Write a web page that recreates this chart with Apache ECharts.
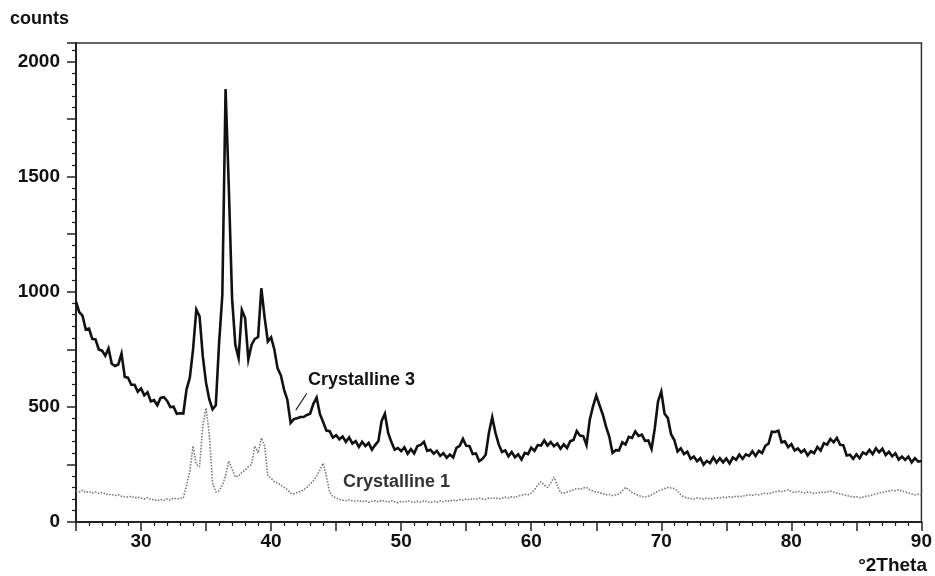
<!DOCTYPE html>
<html>
<head>
<meta charset="utf-8">
<script src="https://cdn.jsdelivr.net/npm/echarts@6/dist/echarts.min.js"></script>
<style>
  html, body { margin: 0; padding: 0; background: #ffffff; }
  #chart { width: 935px; height: 576px; }
</style>
</head>
<body>
<div id="chart"></div>
<script>
// 2Theta grid (degrees), step 0.25 from 25 to 90
const thetaStart = 25, thetaStep = 0.25;

// Crystalline 3 counts (black trace), 4 values per degree from 25.00
const crystalline3 = [
  957, 911, 896, 836,
  840, 795, 793, 749,
  744, 722, 754, 687,
  677, 684, 731, 630,
  627, 596, 596, 566,
  580, 550, 563, 524,
  529, 507, 539, 542,
  527, 499, 501, 470,
  472, 471, 576, 626,
  750, 922, 893, 719,
  604, 532, 489, 507,
  777, 984, 1880, 1450,
  971, 770, 712, 921,
  886, 706, 770, 795,
  803, 1015, 889, 784,
  802, 749, 667, 637,
  574, 531, 430, 447,
  451, 456, 456, 465,
  470, 513, 540, 469,
  434, 397, 394, 367,
  377, 359, 371, 348,
  367, 341, 351, 326,
  348, 330, 343, 314,
  334, 352, 439, 470,
  387, 347, 314, 321,
  308, 324, 296, 316,
  298, 330, 335, 348,
  309, 314, 297, 309,
  287, 299, 279, 293,
  280, 322, 331, 361,
  331, 330, 295, 298,
  264, 274, 292, 389,
  455, 387, 337, 304,
  311, 285, 304, 281,
  294, 271, 300, 295,
  323, 309, 334, 332,
  354, 332, 347, 329,
  341, 318, 337, 321,
  351, 356, 395, 375,
  373, 334, 444, 502,
  549, 507, 467, 414,
  371, 300, 312, 311,
  346, 336, 370, 365,
  393, 374, 379, 352,
  354, 317, 407, 524,
  566, 470, 452, 381,
  356, 306, 320, 295,
  305, 274, 284, 264,
  277, 249, 265, 256,
  281, 258, 277, 259,
  276, 254, 280, 270,
  293, 274, 294, 287,
  307, 287, 309, 299,
  331, 340, 392, 391,
  396, 346, 350, 325,
  338, 311, 319, 302,
  314, 289, 307, 299,
  326, 310, 342, 336,
  361, 346, 365, 335,
  333, 289, 292, 274,
  294, 277, 302, 294,
  313, 295, 320, 303,
  318, 291, 305, 285,
  298, 271, 284, 270,
  284, 259, 277, 262,
  265
];

// Crystalline 1 counts (grey dotted trace), same grid
const crystalline1 = [
  135, 130, 138, 128,
  132, 126, 130, 124,
  128, 122, 118, 120,
  115, 118, 112, 110,
  108, 112, 105, 108,
  104, 100, 106, 98,
  96, 92, 98, 94,
  100, 96, 104, 100,
  102, 105, 160, 220,
  330, 250, 240, 420,
  495, 380, 170, 130,
  135, 160, 200, 265,
  230, 195, 200, 215,
  225, 240, 250, 330,
  300, 365, 330, 200,
  190, 175, 170, 160,
  150, 140, 125, 122,
  128, 132, 140, 150,
  165, 180, 200, 225,
  255, 200, 130, 110,
  105, 98, 95, 92,
  96, 92, 90, 94,
  88, 92, 86, 90,
  92, 88, 94, 90,
  86, 92, 88, 84,
  90, 86, 92, 88,
  85, 90, 86, 92,
  88, 84, 90, 86,
  92, 88, 94, 90,
  96, 92, 98, 94,
  100, 96, 102, 98,
  104, 100, 98, 104,
  102, 106, 100, 104,
  108, 104, 110, 106,
  112, 116, 120, 118,
  125, 140, 160, 175,
  160, 150, 170, 195,
  160, 128, 125, 130,
  135, 140, 145, 142,
  148, 150, 140, 135,
  130, 128, 122, 118,
  120, 115, 118, 122,
  135, 150, 140, 128,
  122, 115, 110, 108,
  112, 118, 125, 135,
  140, 145, 150, 148,
  145, 135, 118, 108,
  104, 102, 100, 104,
  102, 100, 104, 100,
  102, 106, 104, 108,
  106, 110, 108, 112,
  110, 112, 115, 118,
  116, 120, 118, 122,
  125, 122, 128, 130,
  134, 132, 136, 140,
  132, 128, 134, 130,
  126, 130, 128, 124,
  126, 130, 128, 132,
  134, 130, 126, 122,
  118, 114, 112, 108,
  110, 106, 108, 112,
  114, 118, 122, 126,
  128, 132, 134, 138,
  136, 140, 134, 130,
  126, 122, 118, 120,
  116
];

const xTickLabels = [30, 40, 50, 60, 70, 80, 90];
const yTickLabels = [0, 500, 1000, 1500, 2000];
const seriesNames = ['Crystalline 3', 'Crystalline 1'];
// pointer line from trace to the "Crystalline 3" label (2Theta, counts)
const pointerC3 = [[41.9, 486], [42.75, 559]];

const twoTheta = crystalline3.map((_, i) => thetaStart + i * thetaStep);
const pairs = arr => arr.map((v, i) => [twoTheta[i], v]);

const FONT = '"Liberation Sans", Arial, sans-serif';
const chart = echarts.init(document.getElementById('chart'));

chart.setOption({
  backgroundColor: '#ffffff',
  animation: false,
  grid: {
    left: 76, right: 13, top: 43, bottom: 54,
    show: true, borderColor: '#333', borderWidth: 1.5, backgroundColor: 'transparent'
  },
  xAxis: {
    type: 'value', min: 25, max: 90, interval: 5,
    axisLine: { show: true, onZero: false, lineStyle: { color: '#222', width: 2 } },
    axisTick: { show: true, inside: false, length: 9, lineStyle: { color: '#222', width: 1.5 } },
    minorTick: { show: true, splitNumber: 5, length: 4, lineStyle: { color: '#222', width: 1.2 } },
    splitLine: { show: false },
    axisLabel: {
      margin: 10, color: '#111', fontSize: 19, fontWeight: 'bold', fontFamily: FONT,
      showMinLabel: true, showMaxLabel: true,
      formatter: v => xTickLabels.includes(v) ? String(v) : ''
    }
  },
  yAxis: {
    type: 'value', min: 0, max: 2080, interval: 250,
    axisLine: { show: true, lineStyle: { color: '#222', width: 2 } },
    axisTick: { show: true, inside: false, length: 9, lineStyle: { color: '#222', width: 1.5 } },
    minorTick: { show: true, splitNumber: 5, length: 4, lineStyle: { color: '#222', width: 1.2 } },
    splitLine: { show: false },
    axisLabel: {
      margin: 16, color: '#111', fontSize: 19, fontWeight: 'bold', fontFamily: FONT,
      showMaxLabel: false,
      formatter: v => yTickLabels.includes(v) ? String(v) : ''
    }
  },
  series: [
    {
      name: seriesNames[1], type: 'line', data: pairs(crystalline1),
      showSymbol: false, symbol: 'none', z: 2,
      lineStyle: { color: '#777', width: 1.6, type: [1.5, 1.5] }
    },
    {
      name: seriesNames[0], type: 'line', data: pairs(crystalline3),
      showSymbol: false, symbol: 'none', z: 3,
      lineStyle: { color: '#111', width: 2.6, join: 'miter' },
      markLine: {
        silent: true, symbol: 'none', label: { show: false },
        lineStyle: { color: '#222', width: 1.2, type: 'solid' },
        data: [[{ coord: pointerC3[0] }, { coord: pointerC3[1] }]]
      }
    }
  ],
  graphic: [
    { type: 'text', left: 10, top: 10,
      style: { text: 'counts', fontSize: 18, fontWeight: 'bold', fontFamily: FONT, fill: '#111' } },
    { type: 'text', right: 8, top: 556,
      style: { text: '°2Theta', fontSize: 19, fontWeight: 'bold', fontFamily: FONT, fill: '#111' } },
    { type: 'text', left: 308, top: 371,
      style: { text: seriesNames[0], fontSize: 18, fontWeight: 'bold', fontFamily: FONT, fill: '#111' } },
    { type: 'text', left: 343, top: 473,
      style: { text: seriesNames[1], fontSize: 18, fontWeight: 'bold', fontFamily: FONT, fill: '#333' } }
  ]
});
</script>
</body>
</html>
